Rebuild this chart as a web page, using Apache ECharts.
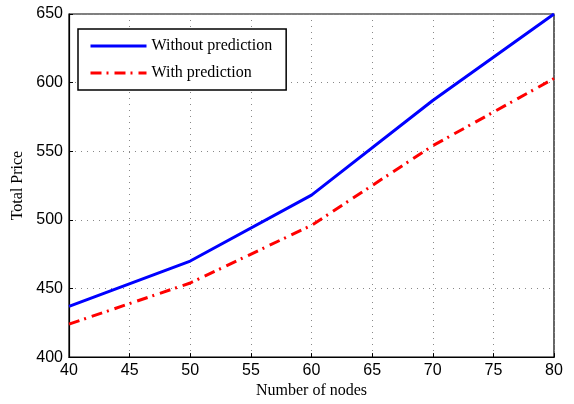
<!DOCTYPE html>
<html>
<head>
<meta charset="utf-8">
<script src="https://cdn.jsdelivr.net/npm/echarts@6/dist/echarts.min.js"></script>
<style>html,body{margin:0;padding:0;background:#fff}#c{width:574px;height:404px}</style>
</head>
<body>
<div id="c"></div>
<script>
const nodes = [40, 50, 60, 70, 80];
const withoutPrediction = [437, 470, 518, 587, 650];
const withPrediction = [424, 454, 496, 554, 603];
const seriesNames = ['Without prediction', 'With prediction'];

const chart = echarts.init(document.getElementById('c'), null, {renderer: 'canvas'});
const pair = (xs, ys) => xs.map((x, i) => [x, ys[i]]);
chart.setOption({
  animation: false,
  backgroundColor: '#fff',
  grid: {left: 69, right: 20, top: 14, bottom: 40, show: true, borderColor: '#000', borderWidth: 1.2, backgroundColor: 'transparent'},
  legend: {
    orient: 'vertical', left: 78, top: 29,
    padding: [9, 14, 9, 11], itemGap: 11, itemWidth: 56, itemHeight: 14,
    borderColor: '#000', borderWidth: 1.5, backgroundColor: '#fff',
    itemStyle: {color: 'rgba(0,0,0,0)', borderWidth: 0, opacity: 0},
    lineStyle: {width: 3},
    textStyle: {fontFamily: 'Liberation Serif', fontSize: 16, color: '#000'},
    data: seriesNames
  },
  xAxis: {
    type: 'value', min: 40, max: 80, interval: 5,
    name: 'Number of nodes', nameLocation: 'middle', nameGap: 24,
    nameTextStyle: {fontFamily: 'Liberation Serif', fontSize: 16, color: '#000'},
    axisLine: {lineStyle: {color: '#000', width: 1.2}},
    axisTick: {inside: true, length: 4, lineStyle: {color: '#000'}},
    axisLabel: {fontFamily: 'Liberation Sans', fontSize: 16, color: '#000', margin: 5},
    splitLine: {show: true, lineStyle: {color: '#888', type: [1, 5], width: 1}}
  },
  yAxis: {
    type: 'value', min: 400, max: 650, interval: 50,
    name: 'Total Price', nameLocation: 'middle', nameGap: 40,
    nameTextStyle: {fontFamily: 'Liberation Serif', fontSize: 16, color: '#000'},
    axisLine: {show: true, lineStyle: {color: '#000', width: 1.2}},
    axisTick: {show: true, inside: true, length: 4, lineStyle: {color: '#000'}},
    axisLabel: {fontFamily: 'Liberation Sans', fontSize: 16, color: '#000', margin: 6},
    splitLine: {show: true, lineStyle: {color: '#888', type: [1, 5], width: 1}}
  },
  series: [
    {name: seriesNames[0], type: 'line', data: pair(nodes, withoutPrediction), symbol: 'none',
     lineStyle: {color: '#0000ff', width: 3}, itemStyle: {color: '#0000ff'}, z: 3},
    {name: seriesNames[1], type: 'line', data: pair(nodes, withPrediction), symbol: 'none',
     lineStyle: {color: '#ff0000', width: 3, type: [11, 5, 2, 6]}, itemStyle: {color: '#ff0000'}, z: 2}
  ]
});
</script>
</body>
</html>
